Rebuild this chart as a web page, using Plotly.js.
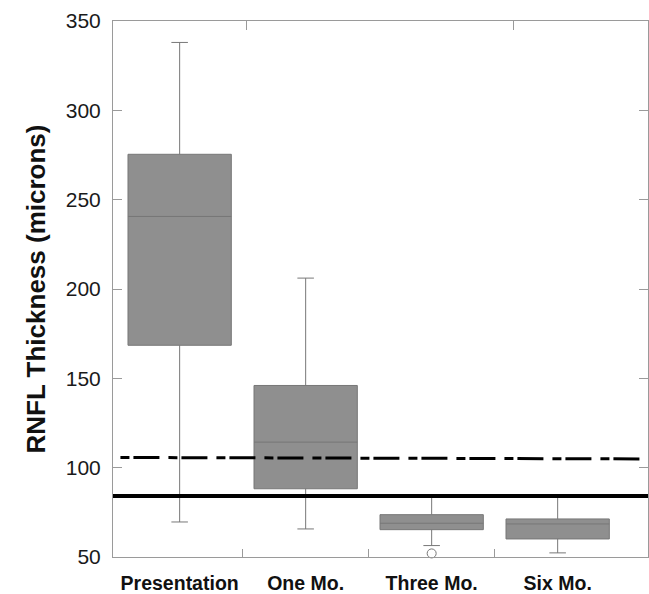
<!DOCTYPE html>
<html>
<head>
<meta charset="utf-8">
<script src="https://cdn.plot.ly/plotly-3.0.1.min.js"></script>
<style>html,body{margin:0;padding:0;background:#fff;overflow:hidden;}#chart{width:649px;height:594px;}</style>
</head>
<body>
<div id="chart"></div>
<script>
// Data
const categories = ["Presentation", "One Mo.", "Three Mo.", "Six Mo."];
const positions = [0, 1, 2, 3];
const lowerWhisker = [69.6, 65.7, 56.4, 52.3];
const q1Values = [168.5, 88.2, 65.3, 60.1];
const medianValues = [240.6, 114.3, 68.9, 68.5];
const q3Values = [275.4, 146.0, 73.7, 71.3];
const upperWhisker = [338, 206.1, 84, 84];
const outlierX = [2];
const outlierY = [52];
const solidRefY = [84.2, 84.2];
const dashRefY = [105.7, 104.9];
const xRange = [-0.529, 3.717];
const boundaryTicks = [0.5, 1.5, 2.5];
const topTicks = [0.53, 2.65];

const font = "Liberation Sans, Arial, sans-serif";

const traces = [
  {
    type: "box",
    x: positions,
    q1: q1Values,
    median: medianValues,
    q3: q3Values,
    lowerfence: lowerWhisker,
    upperfence: upperWhisker,
    width: 0.82,
    whiskerwidth: 0.16,
    fillcolor: "#8f8f8f",
    line: {color: "#777777", width: 1},
    boxpoints: false,
    showlegend: false,
    hoverinfo: "skip"
  },
  {
    type: "scatter",
    mode: "markers",
    x: outlierX,
    y: outlierY,
    marker: {symbol: "circle-open", size: 9, color: "#777", line: {width: 1}},
    cliponaxis: false,
    showlegend: false,
    hoverinfo: "skip"
  },
  {
    type: "scatter",
    mode: "lines",
    x: xRange,
    y: solidRefY,
    line: {color: "#000", width: 4},
    showlegend: false,
    hoverinfo: "skip"
  },
  {
    type: "scatter",
    mode: "lines",
    x: [-0.47, xRange[1]],
    y: dashRefY,
    line: {color: "#000", width: 3, dash: "9px,4px,26px,9px"},
    showlegend: false,
    hoverinfo: "skip"
  }
];

const layout = {
  width: 649,
  height: 594,
  margin: {l: 113, r: 1, t: 21, b: 37},
  paper_bgcolor: "#fff",
  plot_bgcolor: "#fff",
  font: {family: font, color: "#1a1a1a"},
  showlegend: false,
  xaxis: {
    type: "linear",
    range: xRange,
    tickvals: positions,
    ticktext: categories,
    ticks: "",
    showgrid: false,
    zeroline: false,
    showline: true,
    linecolor: "#9a9a9a",
    linewidth: 1,
    mirror: true,
    ticklabelstandoff: 9,
    tickfont: {family: font, size: 19.5, color: "#111", weight: "bold"}
  },
  xaxis2: {
    overlaying: "x",
    anchor: "y",
    side: "bottom",
    range: xRange,
    tickvals: boundaryTicks,
    ticks: "inside",
    ticklen: 8,
    tickcolor: "#9a9a9a",
    showticklabels: false,
    showgrid: false,
    zeroline: false,
    showline: false
  },
  xaxis3: {
    overlaying: "x",
    anchor: "y",
    side: "top",
    range: xRange,
    tickvals: topTicks,
    ticks: "inside",
    ticklen: 9,
    tickcolor: "#9a9a9a",
    showticklabels: false,
    showgrid: false,
    zeroline: false,
    showline: false
  },
  yaxis: {
    range: [50, 350],
    dtick: 50,
    tick0: 50,
    ticks: "inside",
    ticklen: 9,
    tickcolor: "#9a9a9a",
    showgrid: false,
    zeroline: false,
    showline: true,
    linecolor: "#9a9a9a",
    linewidth: 1,
    mirror: "ticks",
    ticklabelstandoff: 7,
    tickfont: {family: font, size: 21, color: "#1a1a1a"},
    title: {
      text: "RNFL Thickness (microns)",
      font: {family: font, size: 26, color: "#111", weight: "bold"},
      standoff: 12
    }
  }
};

// empty traces so the overlay axes are drawn
traces.push({type: "scatter", x: [], y: [], xaxis: "x2", showlegend: false});
traces.push({type: "scatter", x: [], y: [], xaxis: "x3", showlegend: false});

Plotly.newPlot("chart", traces, layout, {staticPlot: true});
</script>
</body>
</html>
